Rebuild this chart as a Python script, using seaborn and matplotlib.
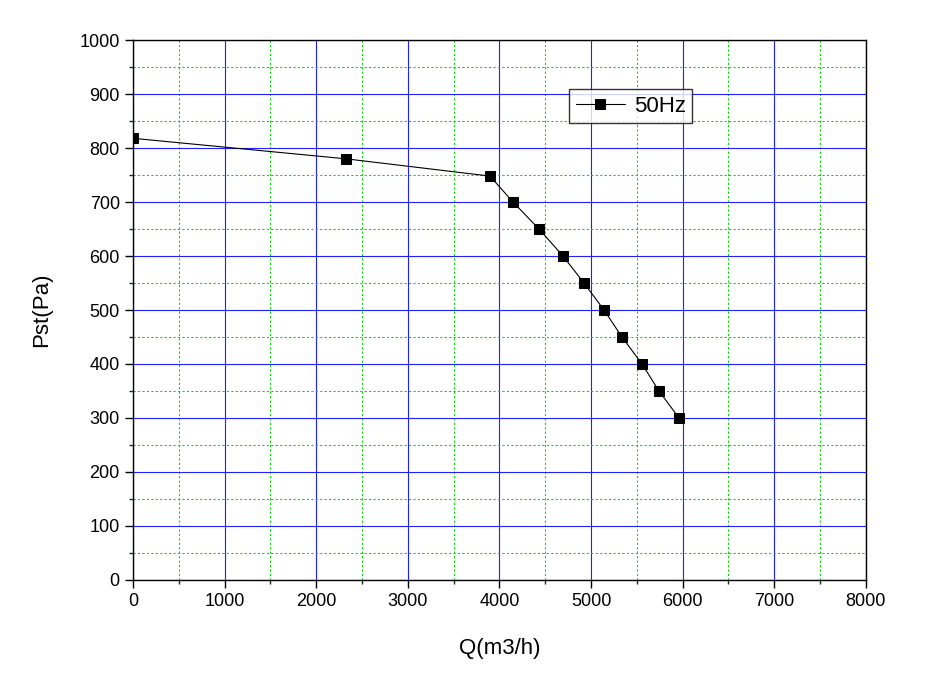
import matplotlib
matplotlib.use("Agg")
import matplotlib.pyplot as plt
import seaborn as sns
import pandas as pd
from matplotlib.ticker import MultipleLocator

# flow vs static pressure
flow = [0, 2325, 3897, 4148, 4432, 4694, 4923, 5142, 5338, 5557, 5742, 5961]
pressure = [818, 780, 748, 700, 650, 600, 550, 500, 450, 400, 350, 300]

df = pd.DataFrame({"Q": flow, "Pst": pressure})

sns.set_style("white")
plt.rcParams['font.family'] = ['Arial', 'Liberation Sans', 'DejaVu Sans']
plt.rcParams['text.color'] = 'black'
plt.rcParams['axes.labelcolor'] = 'black'

fig = plt.figure(figsize=(9.27, 6.95), dpi=100)
ax = fig.add_axes([0.1435, 0.1655, 0.7905, 0.7769])

ax.xaxis.set_major_locator(MultipleLocator(1000))
ax.xaxis.set_minor_locator(MultipleLocator(500))
ax.yaxis.set_major_locator(MultipleLocator(100))
ax.yaxis.set_minor_locator(MultipleLocator(50))
ax.grid(which="minor", color="#00dd00", lw=0.8, ls=(0, (2, 2)))
ax.grid(which="major", color="#2020ff", lw=0.8, ls="-")
ax.set_axisbelow(True)

sns.lineplot(data=df, x="Q", y="Pst", ax=ax, color="black", lw=0.8,
             marker="s", markersize=7, markeredgecolor="black", label="50Hz")

ax.set_xlim(0, 8000)
ax.set_ylim(0, 1000)
for s in ax.spines.values():
    s.set_color("black")
    s.set_linewidth(1)
ax.tick_params(which="major", direction="out", length=6, width=1, labelsize=13,
               left=True, bottom=True, colors="black")
ax.tick_params(which="minor", direction="out", length=3, width=1,
               left=True, bottom=True)
ax.set_xlabel("Q(m3/h)", fontsize=16, labelpad=20)
ax.set_ylabel("Pst(Pa)", fontsize=16, labelpad=20)

leg = ax.legend(loc="upper left", bbox_to_anchor=(0.58, 0.93), fontsize=16,
                frameon=True, fancybox=False, edgecolor="black",
                handlelength=2.2, handletextpad=0.4, borderpad=0.3)
leg.get_frame().set_linewidth(1)

fig.savefig("out.png", dpi=100)
